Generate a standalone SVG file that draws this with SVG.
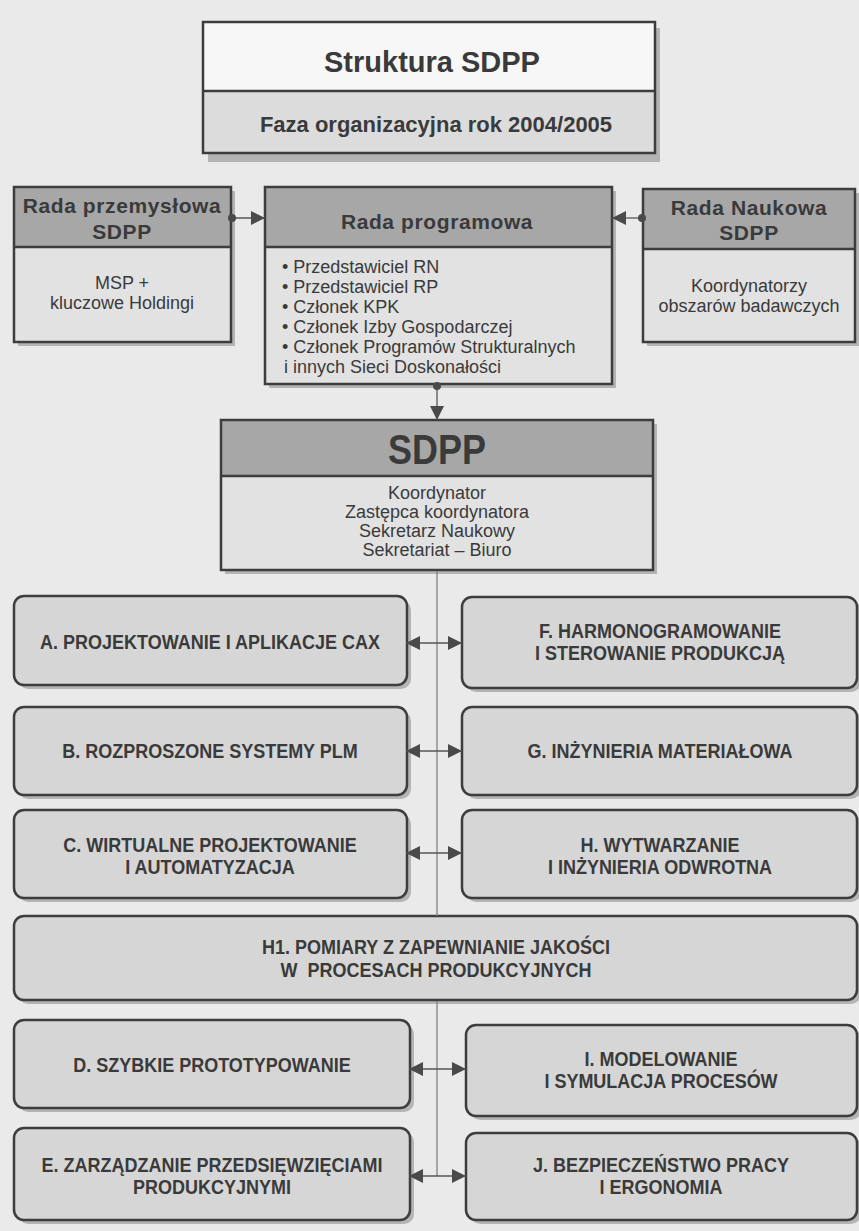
<svg xmlns="http://www.w3.org/2000/svg" width="859" height="1231" viewBox="0 0 859 1231">
<style>
.bg{fill:#eaeaea}
.sh{fill:#b4b4b4}
.bx{stroke:#3d3d3d;stroke-width:2.5}
.hdr{fill:#a7a7a7}
.bod{fill:#e2e2e2}
.wht{fill:#f7f7f7}
.sub{fill:#dcdcdc}
.rb{fill:#d6d6d6;stroke:#3d3d3d;stroke-width:2.5}
.div{stroke:#3d3d3d;stroke-width:2.5}
.t{font-family:"Liberation Sans",Arial,sans-serif;fill:#3a3a3a}
.b{font-weight:bold}
.c{text-anchor:middle}
.h{font-size:21px;font-weight:bold;letter-spacing:0.6px}
.r{font-size:18px}
.n{font-family:"Liberation Sans",Arial,sans-serif;font-weight:bold;font-size:20px;fill:#3a3a3a;text-anchor:middle}
.cn{stroke:#555;stroke-width:1.3;fill:none}
.vl{stroke:#7a7a7a;stroke-width:1.2;fill:none}
</style>
<defs>
<marker id="tri" viewBox="0 0 10 10" refX="10" refY="5" markerWidth="19" markerHeight="14" markerUnits="userSpaceOnUse" orient="auto-start-reverse">
<path d="M0,0 L10,5 L0,10 z" fill="#4a4a4a"/>
</marker>
<marker id="dot" viewBox="0 0 10 10" refX="5" refY="5" markerWidth="8" markerHeight="8" markerUnits="userSpaceOnUse" orient="auto">
<circle cx="5" cy="5" r="5" fill="#4a4a4a"/>
</marker>
</defs>
<rect class="bg" x="0" y="0" width="859" height="1231"/>

<g id="title">
<rect class="sh" x="208" y="28" width="452" height="134"/>
<rect class="wht" x="203" y="22" width="452" height="69"/>
<rect class="sub" x="203" y="91" width="452" height="62"/>
<rect x="203" y="22" width="452" height="131" fill="none" class="bx"/>
<line class="div" x1="203" y1="91" x2="655" y2="91"/>
<text class="t b c" x="432" y="72" font-size="29">Struktura SDPP</text>
<text class="t b c" x="436" y="132" font-size="22">Faza organizacyjna rok 2004/2005</text>
</g>

<g id="rada-przemyslowa">
<rect class="sh" x="18" y="191" width="217" height="155"/>
<rect class="hdr" x="14" y="187" width="217" height="60"/>
<rect class="bod" x="14" y="247" width="217" height="95"/>
<rect x="14" y="187" width="217" height="155" fill="none" class="bx"/>
<line class="div" x1="14" y1="247" x2="231" y2="247"/>
<text class="t h c" x="122" y="213">Rada przemysłowa</text>
<text class="t h c" x="122" y="239">SDPP</text>
<text class="t r c" x="122" y="289">MSP +</text>
<text class="t r c" x="122" y="309">kluczowe Holdingi</text>
</g>

<g id="rada-programowa">
<rect class="sh" x="269" y="191" width="347" height="197"/>
<rect class="hdr" x="265" y="187" width="347" height="60"/>
<rect class="bod" x="265" y="247" width="347" height="137"/>
<rect x="265" y="187" width="347" height="197" fill="none" class="bx"/>
<line class="div" x1="265" y1="247" x2="612" y2="247"/>
<text class="t h c" x="437" y="229">Rada programowa</text>
<text class="t r" x="282" y="273">• Przedstawiciel RN</text>
<text class="t r" x="282" y="293">• Przedstawiciel RP</text>
<text class="t r" x="282" y="313">• Członek KPK</text>
<text class="t r" x="282" y="333">• Członek Izby Gospodarczej</text>
<text class="t r" x="282" y="353">• Członek Programów Strukturalnych</text>
<text class="t r" x="284" y="373">i innych Sieci Doskonałości</text>
</g>

<g id="rada-naukowa">
<rect class="sh" x="647" y="193" width="212" height="153"/>
<rect class="hdr" x="643" y="189" width="212" height="60"/>
<rect class="bod" x="643" y="249" width="212" height="93"/>
<rect x="643" y="189" width="212" height="153" fill="none" class="bx"/>
<line class="div" x1="643" y1="249" x2="855" y2="249"/>
<text class="t h c" x="749" y="215">Rada Naukowa</text>
<text class="t h c" x="749" y="240">SDPP</text>
<text class="t r c" x="749" y="292">Koordynatorzy</text>
<text class="t r c" x="749" y="312">obszarów badawczych</text>
</g>

<g id="sdpp">
<rect class="sh" x="225" y="424" width="432" height="150"/>
<rect class="hdr" x="221" y="420" width="432" height="56"/>
<rect class="bod" x="221" y="476" width="432" height="94"/>
<rect x="221" y="420" width="432" height="150" fill="none" class="bx"/>
<line class="div" x1="221" y1="476" x2="653" y2="476"/>
<text class="t b c" x="437" y="464" font-size="42" textLength="98" lengthAdjust="spacingAndGlyphs">SDPP</text>
<text class="t r c" x="437" y="499">Koordynator</text>
<text class="t r c" x="437" y="518">Zastępca koordynatora</text>
<text class="t r c" x="437" y="537">Sekretarz Naukowy</text>
<text class="t r c" x="437" y="556">Sekretariat – Biuro</text>
</g>

<g id="box-a">
<rect class="sh" x="18" y="600" width="393" height="89" rx="10"/>
<rect class="rb" x="14" y="596" width="393" height="89" rx="10"/>
<text class="n" transform="translate(210,649) scale(0.9,1)">A. PROJEKTOWANIE I APLIKACJE CAX</text>
</g>
<g id="box-f">
<rect class="sh" x="466" y="601" width="395" height="91" rx="10"/>
<rect class="rb" x="462" y="597" width="395" height="91" rx="10"/>
<text class="n" transform="translate(660,638) scale(0.9,1)">F. HARMONOGRAMOWANIE</text>
<text class="n" transform="translate(660,660) scale(0.9,1)">I STEROWANIE PRODUKCJĄ</text>
</g>
<g id="box-b">
<rect class="sh" x="18" y="711" width="393" height="88" rx="10"/>
<rect class="rb" x="14" y="707" width="393" height="88" rx="10"/>
<text class="n" transform="translate(210,758) scale(0.9,1)">B. ROZPROSZONE SYSTEMY PLM</text>
</g>
<g id="box-g">
<rect class="sh" x="466" y="711" width="395" height="88" rx="10"/>
<rect class="rb" x="462" y="707" width="395" height="88" rx="10"/>
<text class="n" transform="translate(660,758) scale(0.9,1)">G. INŻYNIERIA MATERIAŁOWA</text>
</g>
<g id="box-c">
<rect class="sh" x="18" y="814" width="393" height="88" rx="10"/>
<rect class="rb" x="14" y="810" width="393" height="88" rx="10"/>
<text class="n" transform="translate(210,852) scale(0.9,1)">C. WIRTUALNE PROJEKTOWANIE</text>
<text class="n" transform="translate(210,874) scale(0.9,1)">I AUTOMATYZACJA</text>
</g>
<g id="box-h">
<rect class="sh" x="466" y="814" width="395" height="88" rx="10"/>
<rect class="rb" x="462" y="810" width="395" height="88" rx="10"/>
<text class="n" transform="translate(660,852) scale(0.9,1)">H. WYTWARZANIE</text>
<text class="n" transform="translate(660,874) scale(0.9,1)">I INŻYNIERIA ODWROTNA</text>
</g>
<g id="box-h1">
<rect class="sh" x="18" y="920" width="843" height="84" rx="10"/>
<rect class="rb" x="14" y="916" width="843" height="84" rx="10"/>
<text class="n" transform="translate(436,954) scale(0.9,1)">H1. POMIARY Z ZAPEWNIANIE JAKOŚCI</text>
<text class="n" transform="translate(436,977) scale(0.9,1)" xml:space="preserve">W  PROCESACH PRODUKCYJNYCH</text>
</g>
<g id="box-d">
<rect class="sh" x="18" y="1024" width="396" height="88" rx="10"/>
<rect class="rb" x="14" y="1020" width="396" height="88" rx="10"/>
<text class="n" transform="translate(212,1072) scale(0.9,1)">D. SZYBKIE PROTOTYPOWANIE</text>
</g>
<g id="box-i">
<rect class="sh" x="470" y="1029" width="391" height="91" rx="10"/>
<rect class="rb" x="466" y="1025" width="391" height="91" rx="10"/>
<text class="n" transform="translate(661,1066) scale(0.9,1)">I. MODELOWANIE</text>
<text class="n" transform="translate(661,1088) scale(0.9,1)">I SYMULACJA PROCESÓW</text>
</g>
<g id="box-e">
<rect class="sh" x="18" y="1132" width="396" height="92" rx="10"/>
<rect class="rb" x="14" y="1128" width="396" height="92" rx="10"/>
<text class="n" transform="translate(212,1172) scale(0.9,1)">E. ZARZĄDZANIE PRZEDSIĘWZIĘCIAMI</text>
<text class="n" transform="translate(212,1194) scale(0.9,1)">PRODUKCYJNYMI</text>
</g>
<g id="box-j">
<rect class="sh" x="470" y="1137" width="391" height="87" rx="10"/>
<rect class="rb" x="466" y="1133" width="391" height="87" rx="10"/>
<text class="n" transform="translate(661,1172) scale(0.9,1)">J. BEZPIECZEŃSTWO PRACY</text>
<text class="n" transform="translate(661,1194) scale(0.9,1)">I ERGONOMIA</text>
</g>

<g id="connectors">
<line class="vl" x1="437" y1="571" x2="437" y2="916"/>
<line class="vl" x1="437" y1="1001" x2="437" y2="1176"/>
<line class="cn" x1="232" y1="218" x2="265" y2="218" marker-start="url(#dot)" marker-end="url(#tri)"/>
<line class="cn" x1="642" y1="218" x2="612" y2="218" marker-start="url(#dot)" marker-end="url(#tri)"/>
<line class="cn" x1="437" y1="386" x2="437" y2="420" marker-start="url(#dot)" marker-end="url(#tri)"/>
<line class="cn" x1="406" y1="643" x2="462" y2="643" marker-start="url(#tri)" marker-end="url(#tri)"/>
<line class="cn" x1="406" y1="751" x2="462" y2="751" marker-start="url(#tri)" marker-end="url(#tri)"/>
<line class="cn" x1="406" y1="853" x2="462" y2="853" marker-start="url(#tri)" marker-end="url(#tri)"/>
<line class="cn" x1="409" y1="1069" x2="466" y2="1069" marker-start="url(#tri)" marker-end="url(#tri)"/>
<line class="cn" x1="409" y1="1176" x2="466" y2="1176" marker-start="url(#tri)" marker-end="url(#tri)"/>
</g>
</svg>
